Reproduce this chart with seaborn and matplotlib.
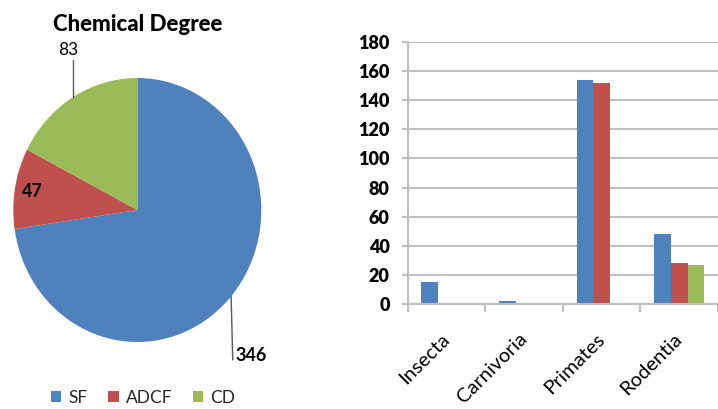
import numpy as np
import pandas as pd
import matplotlib
matplotlib.use("Agg")
import matplotlib.pyplot as plt
import matplotlib.transforms as mtransforms
from matplotlib.patches import Patch
import seaborn as sns

# Pie: share of each category
pie_labels = ["SF", "ADCF", "CD"]
pie_values = [346, 47, 83]
colors = ["#4F81BD", "#C0504D", "#9BBB59"]

# Bars: counts per order
orders = ["Insecta", "Carnivoria", "Primates", "Rodentia"]
sf_counts = [15, 2, 154, 48]
adcf_counts = [0, 0, 152, 28]
cd_counts = [0, 0, 0, 27]
y_ticks = [0, 20, 40, 60, 80, 100, 120, 140, 160, 180]

sns.set_theme(style="white")
plt.rcParams["font.family"] = ["Lato", "DejaVu Sans"]

W, H = 718, 409
fig = plt.figure(figsize=(W / 100, H / 100), dpi=100)


def px(left, top, w, h):
    return [left / W, 1 - (top + h) / H, w / W, h / H]


# ---- pie -------------------------------------------------------------
cx, cy, rx, ry = 137.3, 210, 124, 132
ax_pie = fig.add_axes(px(cx - rx, cy - ry, 2 * rx, 2 * ry))
wedges, _ = ax_pie.pie(pie_values, colors=colors, startangle=90,
                       counterclock=False, radius=1,
                       wedgeprops=dict(linewidth=0))
ax_pie.set_aspect("auto")
ax_pie.set_xlim(-1, 1)
ax_pie.set_ylim(-1, 1)
ax_pie.axis("off")

mids = {lab: np.deg2rad((w.theta1 + w.theta2) / 2) for lab, w in zip(pie_labels, wedges)}
vals = dict(zip(pie_labels, pie_values))
lead_col = "#595959"

# CD: leader line up to label above the pie
m = mids["CD"]
ex, ey = np.cos(m), np.sin(m)
ax_pie.plot([ex, ex], [ey, 1.136], color=lead_col, lw=1, clip_on=False)
ax_pie.text(ex - 0.035, 1.15, str(vals["CD"]), ha="center", va="bottom",
            fontsize=12.5, color="black", clip_on=False)

# SF: leader line down to label below the pie
m = mids["SF"]
ex, ey = np.cos(m), np.sin(m)
ax_pie.plot([ex, ex + 0.013], [ey, -1.136], color=lead_col, lw=1, clip_on=False)
ax_pie.text(ex + 0.035, -1.105, str(vals["SF"]), ha="left", va="center",
            fontsize=13, fontweight="bold", color="black", clip_on=False)

# ADCF: label inside its wedge
m = mids["ADCF"]
ax_pie.text(0.86 * np.cos(m), 0.86 * np.sin(m), str(vals["ADCF"]),
            ha="center", va="center", fontsize=13, fontweight="bold", color="black")

fig.text(cx / W, 1 - 31 / H, "Chemical Degree", ha="center", va="baseline",
         fontsize=16, fontweight="black", color="black")

handles = [Patch(facecolor=c, edgecolor="none", label=l) for c, l in zip(colors, pie_labels)]
fig.legend(handles=handles, loc="center", bbox_to_anchor=(143 / W, 1 - 398 / H),
           ncol=3, frameon=False, handlelength=0.6, handleheight=0.6,
           handletextpad=0.4, columnspacing=1.2, fontsize=12.5)

# ---- bars ------------------------------------------------------------
df = pd.DataFrame({
    "order": orders * 3,
    "series": [pie_labels[0]] * 4 + [pie_labels[1]] * 4 + [pie_labels[2]] * 4,
    "count": sf_counts + adcf_counts + cd_counts,
})

x0, y_top, y_bot = 407.7, 41.7, 304.3
cat_w = 80.5
ax_bar = fig.add_axes(px(x0, y_top, W - x0, y_bot - y_top))
sns.barplot(data=df, x="order", y="count", hue="series", order=orders,
            hue_order=pie_labels, palette=colors, saturation=1, width=0.645,
            linewidth=0, ax=ax_bar, legend=False, errorbar=None)

grid_col = "#BFBFBF"
ax_bar.set_xlim(-0.5, -0.5 + (W - x0) / cat_w)
ax_bar.set_ylim(0, 180)
ax_bar.set_yticks(y_ticks)
ax_bar.set_yticklabels([str(v) for v in y_ticks], fontsize=13, fontweight="heavy", color="black")
ax_bar.yaxis.grid(True, color=grid_col, lw=1.5)
ax_bar.xaxis.grid(False)
ax_bar.set_axisbelow(True)
for s in ["top", "right"]:
    ax_bar.spines[s].set_visible(False)
for s in ["left", "bottom"]:
    ax_bar.spines[s].set_color(grid_col)
    ax_bar.spines[s].set_linewidth(1.5)

ax_bar.set_xticks(range(len(orders)))
ax_bar.set_xticklabels(orders, rotation=45, ha="right", va="center",
                       rotation_mode="anchor", fontsize=14.5, color="black")
shift = mtransforms.ScaledTranslation(6 / 100, 0, fig.dpi_scale_trans)
for lbl in ax_bar.get_xticklabels():
    lbl.set_transform(lbl.get_transform() + shift)
ax_bar.set_xticks(np.arange(len(orders) + 1) - 0.5, minor=True)
ax_bar.tick_params(axis="x", which="major", length=0, pad=23)
ax_bar.tick_params(axis="x", which="minor", length=5.4, width=1.5,
                   color=grid_col, direction="out", bottom=True)
ax_bar.tick_params(axis="y", length=4.3, width=1.5, color=grid_col,
                   direction="out", left=True, pad=8.6)
ax_bar.set_xlabel("")
ax_bar.set_ylabel("")

fig.savefig("out.png", dpi=100)
